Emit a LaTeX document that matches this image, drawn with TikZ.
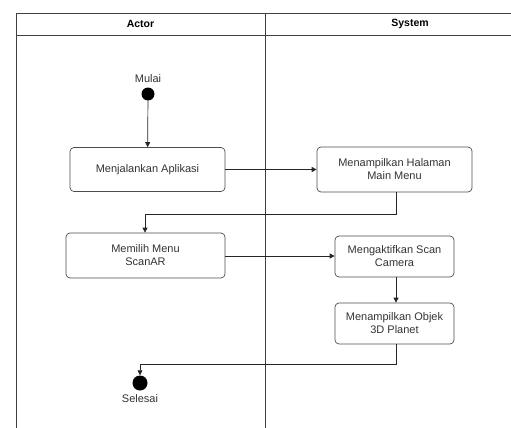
\documentclass[tikz,border=0pt]{standalone}
\usepackage{fontspec}
\setmainfont{Liberation Sans}
\usetikzlibrary{arrows.meta}
\begin{document}
\begin{tikzpicture}[x=1pt,y=-1pt,
  lane/.style={draw=black!75,line width=0.9pt},
  act/.style={draw=black!70,line width=0.7pt,rounded corners=4pt,align=center,font=\fontsize{11}{13}\selectfont,text=black!80,inner sep=0pt},
  flow/.style={draw=black!85,line width=0.7pt,-{Triangle[length=5pt,width=5pt]}},
  dot/.style={circle,fill=black,inner sep=0pt,minimum size=#1},
  lbl/.style={font=\fontsize{11}{13}\selectfont,text=black!80}]
\useasboundingbox (0,0) rectangle (511,428);
% swimlanes
\draw[lane] (16,428) -- (16,13) -- (512,13);
\draw[lane] (16,35) -- (512,35);
\draw[lane] (265,13) -- (265,428);
\node[font=\bfseries\fontsize{10.5}{12}\selectfont] (hA) at (140.5,24) {Actor};
\node[font=\bfseries\fontsize{10.5}{12}\selectfont] (hS) at (410,24) {System};
% nodes
\node[lbl] (mulai) at (148,79) {Mulai};
\node[dot=13pt] (start) at (148,94) {};
\node[act,minimum width=155pt,minimum height=44pt] (b1) at (147.5,169.5) {Menjalankan Aplikasi};
\node[act,minimum width=155pt,minimum height=45pt] (b2) at (394.5,169.5) {Menampilkan Halaman\\Main Menu};
\node[act,minimum width=159pt,minimum height=45pt] (b3) at (145.5,255.5) {Memilih Menu\\ScanAR};
\node[act,minimum width=119pt,minimum height=41pt] (b4) at (394.5,256.5) {Mengaktifkan Scan\\Camera};
\node[act,minimum width=119pt,minimum height=41pt] (b5) at (394.5,323.5) {Menampilkan Objek\\3D Planet};
\node[dot=15pt] (end) at (140,383) {};
\node[lbl] (selesai) at (140,399) {Selesai};
% flows
\draw[flow] (start) -- (b1);
\draw[flow] (b1) -- (b2);
\draw[flow] (b2.south -| 396,0) |- (145,214) -- (b3.north -| 145,0);
\draw[flow] (b3.east |- 0,256) -- (b4.west |- 0,256);
\draw[flow] (b4.south -| 396,0) -- (b5.north -| 396,0);
\draw[flow] (b5.south -| 396,0) |- (140,364) -- (end);
\end{tikzpicture}
\end{document}
